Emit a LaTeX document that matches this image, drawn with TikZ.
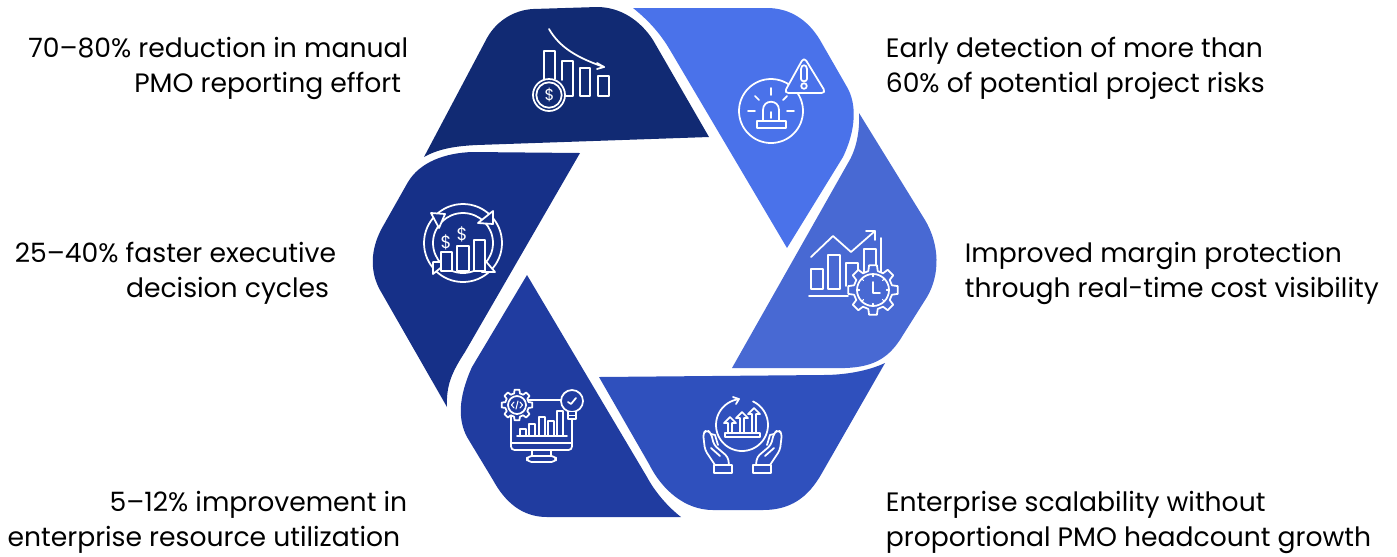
\documentclass[tikz,border=0pt]{standalone}
\usepackage{fontspec}
\setmainfont{Poppins}
\definecolor{cA}{HTML}{112A73}
\definecolor{cB}{HTML}{4A72EA}
\definecolor{cC}{HTML}{4869D3}
\definecolor{cD}{HTML}{2F50BD}
\definecolor{cE}{HTML}{203CA0}
\definecolor{cF}{HTML}{163088}
\tikzset{
  iconline/.style={draw=white,line width=1pt,line join=round,line cap=round},
  blocktext/.style={inner sep=0pt,text=black,font=\fontsize{15.15}{19.9}\selectfont},
  lefttext/.style={blocktext,anchor=east,align=right},
  righttext/.style={blocktext,anchor=west,align=left},
  dollar/.style={inner sep=0pt,text=white,font=\fontsize{#1}{#1}\selectfont},
}
\newcommand{\drawgear}[5]{%
  \draw[iconline,fill=#5] ({#1+#4*cos(-14)},{#2-#4*sin(-14)})
    \foreach \a in {0,45,...,315}{
      -- ({#1+#4*cos(\a-14)},{#2-#4*sin(\a-14)})
      -- ({#1+#3*cos(\a-9)},{#2-#3*sin(\a-9)})
      -- ({#1+#3*cos(\a+9)},{#2-#3*sin(\a+9)})
      -- ({#1+#4*cos(\a+14)},{#2-#4*sin(\a+14)})
    } -- cycle;}
\begin{document}
\begin{tikzpicture}[x=0.02cm,y=-0.02cm]
\useasboundingbox (0,0) rectangle (1397,556);
% six blades
\fill[cA] (424,157) -- (487,38) .. controls (497,20) and (515,10) .. (533,9) -- (597,7)
  .. controls (620,7) and (640,20) .. (653,40) -- (709,137) -- (477,145) .. controls (455,146) and (438,149) .. (424,157) -- cycle;
\fill[cB] (633,8) -- (767,8) .. controls (790,8) and (808,20) .. (820,40) -- (847,87)
  .. controls (857,104) and (856,130) .. (843,157) -- (787,248) -- (670,50) .. controls (660,33) and (648,20) .. (633,8) -- cycle;
\fill[cC] (859,113) -- (925,220) .. controls (940,245) and (940,275) .. (927,297) -- (903,335)
  .. controls (890,357) and (875,367) .. (845,368) -- (732,368) -- (848,163) .. controls (856,150) and (860,132) .. (859,113) -- cycle;
\fill[cD] (599,377) -- (823,375) .. controls (845,375) and (868,371) .. (885,363) -- (822,473)
  .. controls (808,498) and (790,510) .. (763,510) -- (713,510) .. controls (685,510) and (662,490) .. (649,464) -- cycle;
\fill[cE] (527,275) -- (647,477) .. controls (655,492) and (668,507) .. (681,517) -- (547,517)
  .. controls (522,517) and (505,502) .. (493,480) -- (467,437) .. controls (458,420) and (458,398) .. (472,367) -- cycle;
\fill[cF] (580,153) -- (472,152) .. controls (445,153) and (420,162) .. (408,182) -- (382,228)
  .. controls (370,250) and (370,272) .. (380,290) -- (447,407) .. controls (446,385) and (452,372) .. (465,352) -- cycle;

% icon: falling bars and coin
\draw[iconline] (544,79) -- (544,51) -- (555,51) -- (555,79);
\draw[iconline] (562,80) -- (562,61) -- (573,61) -- (573,96) -- (565,96);
\draw[iconline] (580,68) rectangle (590,96);
\draw[iconline] (598,76) rectangle (609,96);
\draw[iconline] (549,29) .. controls (560,48) and (578,58) .. (604,67);
\draw[iconline] (597,63) -- (604,67) -- (597,69);
\draw[iconline,fill=cA] (549,95) circle (16);
\draw[iconline] (549,95) circle (12.7);
\node[dollar=9] (coin) at (549.5,95) {\$};

% icon: siren and warning
\draw[iconline] (771,111) circle (32);
\draw[iconline,fill=cB,rounded corners=2.5pt] (804,57) -- (826,93) -- (784,93) -- cycle;
\draw[iconline] (801,69) -- (801,79) .. controls (801,82) and (807,82) .. (807,79) -- (807,69) .. controls (807,64) and (801,64) .. (801,69) -- cycle;
\draw[iconline] (804,86) circle (2.8);
\draw[iconline] (757,121) rectangle (786,128);
\draw[iconline] (763,121) -- (763,110) .. controls (763,99) and (779,99) .. (779,110) -- (779,121);
\draw[iconline] (771,112) -- (771,118);
\draw[iconline] (771,88) -- (771,95) (755,96) -- (759,100) (787,96) -- (783,100) (748,111) -- (755,111) (787,111) -- (794,111);

% icon: chart with clock gear
\draw[iconline] (811,269) rectangle (823,289);
\draw[iconline] (828,255) rectangle (840,289);
\draw[iconline] (846,286) -- (846,263) -- (858,263) -- (858,275);
\draw[iconline] (864,272) -- (864,249) -- (876,249) -- (876,272);
\draw[iconline] (881,238) -- (881,272);
\draw[iconline] (809,296) -- (848,296);
\draw[iconline] (811,257) -- (833,236) -- (851,252) -- (875,231);
\draw[iconline] (866,231) -- (875,231) -- (875,240);
\drawgear{873}{290}{25}{19.5}{cC}
\draw[iconline] (873,290) circle (16);
\draw[iconline] (873,282) -- (873,293) -- (880,293);
\foreach \t in {0,45,...,315}{\draw[iconline,line width=0.6pt] ({873+16*cos(\t)},{290-16*sin(\t)}) -- ({873+13.5*cos(\t)},{290-13.5*sin(\t)});}

% icon: hands and growth
\draw[iconline] plot[smooth,domain=65:-260,samples=60] ({742+26*cos(\x)},{425-26*sin(\x)});
\draw[iconline] (733,397) -- (739,399) -- (736,404);
\draw[iconline] (725,433) rectangle (760,437);
\foreach \cx/\ty in {730/417,742/412,754/408}{
  \draw[iconline] (\cx-2,433) -- (\cx-2,\ty+6) -- (\cx-6,\ty+6) -- (\cx,\ty) -- (\cx+6,\ty+6) -- (\cx+2,\ty+6) -- (\cx+2,433);
}
\draw[iconline] (714,465) rectangle (732,473);
\draw[iconline] (753,465) rectangle (771,473);
\draw[iconline,rounded corners=2pt] (715,465) -- (705,450) -- (703,433) -- (707,430) -- (711,433) -- (714,445) -- (728,457) -- (729,465);
\draw[iconline,rounded corners=2pt] (770,465) -- (780,450) -- (782,433) -- (778,430) -- (774,433) -- (771,445) -- (757,457) -- (756,465);
\draw[iconline] (711,434) -- (715,435) -- (718,445) (711,448) -- (720,456);
\draw[iconline] (774,434) -- (770,435) -- (767,445) (774,448) -- (765,456);

% icon: monitor
\draw[iconline,rounded corners=2pt] (511,400) rectangle (572,450);
\draw[iconline] (511,443) -- (572,443);
\draw[iconline] (532,450) -- (532,456) (551,450) -- (551,456);
\draw[iconline,rounded corners=2.5pt] (527,462) -- (527,456) -- (556,456) -- (556,462) -- cycle;
\draw[iconline] (517,436) -- (567,436);
\foreach \l/\r/\h in {520/526/429,529/535/424,539/545/417,548/554/421,557/563/411}{
  \draw[iconline] (\l,436) -- (\l,\h) -- (\r,\h) -- (\r,436);
}
\drawgear{517}{405}{15.5}{12}{cE}
\draw[iconline] (517,405) circle (9);
\draw[iconline,line width=0.6pt] (514,402) -- (511.5,405) -- (514,408) (520,402) -- (522.5,405) -- (520,408) (518,401) -- (516,409);
\draw[iconline,fill=cE] (572,401) circle (11);
\draw[iconline,fill=cE] (568,412) -- (568,419) -- (576,419) -- (576,412);
\draw[iconline] (568,415.5) -- (576,415.5);
\draw[iconline] (568,402) -- (571,404) -- (576,398);

% icon: cycle with bars
\draw[iconline] (463,243) circle (39);
\draw[iconline] (463,243) circle (30);
\draw[iconline,fill=cF] (431,213) -- (445,214) -- (439,228) -- cycle;
\draw[iconline,fill=cF] (493,211) -- (493,224) -- (478,223) -- cycle;
\draw[iconline,fill=cF] (495,272) -- (482,272) -- (483,258) -- cycle;
\draw[iconline,fill=cF] (433,274) -- (433,262) -- (448,262) -- cycle;
\draw[iconline,fill=cF] (441,252) rectangle (452,271);
\draw[iconline,fill=cF] (457,246) rectangle (469,271);
\draw[iconline,fill=cF] (474,240) rectangle (485,271);
\node[dollar=10] (dollarA) at (446,242) {\$};
\node[dollar=10] (dollarB) at (462,234) {\$};

% labels
\node[lefttext] (t1) at (408.5,68.5) {70–80\% reduction in manual\\PMO reporting effort\hspace*{4pt}};
\node[righttext] (t2) at (885.5,68.5) {Early detection of more than\\60\% of potential project risks};
\node[lefttext] (t3) at (336.5,273.5) {25–40\% faster executive\\decision cycles\hspace*{4pt}};
\node[righttext] (t4) at (964.5,273.5) {Improved margin protection\\through real-time cost visibility};
\node[lefttext] (t5) at (407.5,522.5) {5–12\% improvement in\\enterprise resource utilization\hspace*{4pt}};
\node[righttext] (t6) at (885.5,522.5) {Enterprise scalability without\\proportional PMO headcount growth};
\end{tikzpicture}
\end{document}
